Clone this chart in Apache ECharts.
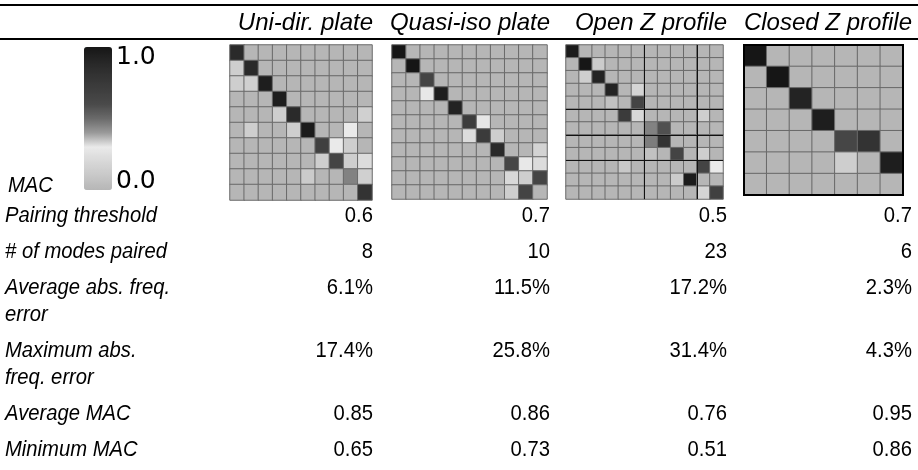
<!DOCTYPE html>
<html><head><meta charset="utf-8">
<script src="https://cdn.jsdelivr.net/npm/echarts@6/dist/echarts.min.js"></script>
<style>html,body{margin:0;padding:0;background:#fff}#c{width:918px;height:470px}</style>
</head><body><div id="c"></div>
<script>
// ---------- data ----------
const columns = ['Uni-dir. plate', 'Quasi-iso plate', 'Open Z profile', 'Closed Z profile'];
const rowLabels = [['Pairing threshold'], ['# of modes paired'], ['Average abs. freq.', 'error'],
                   ['Maximum abs.', 'freq. error'], ['Average MAC'], ['Minimum MAC']];
const pairingThreshold = [0.6, 0.7, 0.5, 0.7];
const modesPaired = [8, 10, 23, 6];
const avgFreqError = [6.1, 11.5, 17.2, 2.3];
const maxFreqError = [17.4, 25.8, 31.4, 4.3];
const avgMAC = [0.85, 0.86, 0.76, 0.95];
const minMAC = [0.65, 0.73, 0.51, 0.86];
const colorbarLabels = ['1.0', '0.0'];
const colorbarTitle = 'MAC';

const macUniDir = [
  [0.87,0,0,0,0,0,0,0,0,0],
  [0.14,0.87,0,0,0,0,0,0,0,0],
  [0.14,0.15,0.95,0,0,0,0,0,0,0],
  [0,0,0,0.95,0,0,0,0,0,0],
  [0,0,0,0.14,0.87,0,0,0,0,0.15],
  [0,0.14,0,0,0.14,0.97,0,0,0.3,0],
  [0,0,0,0,0,0,0.68,0.3,0.14,0],
  [0,0,0,0,0,0,0.14,0.65,0.14,0.22],
  [0,0,0,0,0,0.12,0,0,0.45,0.15],
  [0,0,0,0,0,0,0,0,0,0.8]
];
const macQuasiIso = [
  [1,0,0,0,0,0,0,0,0,0,0],
  [0,1,0,0,0,0,0,0,0,0,0],
  [0,0,0.65,0,0,0,0,0,0,0,0],
  [0,0,0.29,0.95,0,0,0,0,0,0,0],
  [0,0,0,0,0.92,0,0,0,0,0,0],
  [0,0,0,0,0,0.72,0.28,0,0,0,0],
  [0,0,0,0,0,0.22,0.73,0.14,0,0,0],
  [0,0,0,0,0,0,0,0.87,0,0,0.17],
  [0,0,0,0,0,0,0,0,0.63,0.29,0.22],
  [0,0,0,0,0,0,0,0,0.2,0.14,0.65],
  [0,0,0,0,0,0,0,0,0.14,0.65,0]
];
const macOpenZ = [
  [0.97,0,0,0,0,0,0,0,0,0,0,0],
  [0,1,0.12,0,0,0,0,0,0,0,0,0],
  [0,0.14,0.92,0,0,0,0,0,0,0,0,0],
  [0,0,0,0.92,0,0.18,0,0,0,0,0,0],
  [0,0,0,0.06,0,0.65,0,0,0,0,0,0],
  [0,0,0,0,0.73,0.2,0,0,0,0,0.14,0],
  [0,0,0,0,0,0,0.45,0.58,0,0,0,0],
  [0,0,0,0,0,0,0.46,0.8,0,0,0,0],
  [0,0,0,0,0,0,0.06,0,0.65,0,0.14,0],
  [0,0,0,0,0.1,0,0,0,0,0,0.65,0.3],
  [0,0,0,0,0,0,0,0,0.12,0.97,0,0],
  [0,0,0,0,0,0,0,0,0,0,0.18,0.68]
];
const macClosedZ = [
  [1,0,0,0,0,0,0],
  [0,1,0,0,0,0,0],
  [0,0,0.92,0,0,0,0],
  [0,0,0,0.95,0,0,0],
  [0,0,0,0,0.63,0.8,0],
  [0,0,0,0,0.14,0,0.95],
  [0,0,0,0,0,0,0]
];
const openZDividersX = [6, 10];
const openZDividersY = [5, 7, 9];

// ---------- layout ----------
const matrices = [macUniDir, macQuasiIso, macOpenZ, macClosedZ];
const gridBoxes = [
  {left: 230, top: 45, width: 142, height: 155},
  {left: 392, top: 45, width: 155, height: 154},
  {left: 566, top: 45, width: 157, height: 154},
  {left: 744, top: 45, width: 159, height: 150}
];
const colRight = [373, 550, 727, 912];
const rowY = [216, 252, 288, 351, 414, 450];
const lineGap = 27;
const FAMILY = '"Liberation Sans", Arial, sans-serif';
const condense = 0.92;

const macColors = ['#b6b6b6','#c8c8c8','#d8d8d8','#eaeaea','#9a9a9a','#6a6a6a',
                   '#4a4a4a','#3e3e3e','#333333','#262626','#161616'];

const rowValues = [
  pairingThreshold.map(v => v.toFixed(1)),
  modesPaired.map(v => String(v)),
  avgFreqError.map(v => v.toFixed(1) + '%'),
  maxFreqError.map(v => v.toFixed(1) + '%'),
  avgMAC.map(v => v.toFixed(2)),
  minMAC.map(v => v.toFixed(2))
];

const graphics = [];
function txt(text, x, y, align, italic, size, family, sx) {
  graphics.push({type: 'text', z: 10, x: x, y: y, scaleX: sx == null ? condense : sx,
    style: {
      text: text, x: 0, y: 0, textAlign: align, textVerticalAlign: 'middle',
      fontFamily: family || FAMILY, fontSize: size || 22,
      fontStyle: italic ? 'italic' : 'normal', fill: '#000'
    }});
}
// rules
graphics.push({type: 'line', shape: {x1: 0, y1: 5, x2: 918, y2: 5}, style: {stroke: '#000', lineWidth: 2}});
graphics.push({type: 'line', shape: {x1: 0, y1: 39, x2: 918, y2: 39}, style: {stroke: '#000', lineWidth: 2}});
// headers
columns.forEach((c, i) => txt(c, colRight[i], 23, 'right', true, 24, null, 1));
// row labels and values
rowLabels.forEach((lines, r) => {
  lines.forEach((l, k) => txt(l, 5, rowY[r] + k * lineGap, 'left', true));
  rowValues[r].forEach((v, i) => txt(v, colRight[i], rowY[r], 'right', false));
});
// colorbar labels
txt(colorbarLabels[0], 116, 57, 'left', false, 25, '"DejaVu Sans", sans-serif', 1);
txt(colorbarLabels[1], 116, 181, 'left', false, 25, '"DejaVu Sans", sans-serif', 1);
txt(colorbarTitle, 8, 186, 'left', true);
// closed-Z outer frame
const g4 = gridBoxes[3];
graphics.push({type: 'rect', z: 20, shape: {x: g4.left, y: g4.top, width: g4.width, height: g4.height},
  style: {fill: 'none', stroke: '#000', lineWidth: 2}});

const grid = gridBoxes.map(b => ({left: b.left, top: b.top, width: b.width, height: b.height}));
const xAxis = [], yAxis = [], series = [];
matrices.forEach((m, i) => {
  const cats = m[0].map((_, j) => String(j + 1));
  xAxis.push({type: 'category', gridIndex: i, data: cats, show: false});
  yAxis.push({type: 'category', gridIndex: i, data: m.map((_, j) => String(j + 1)), inverse: true, show: false});
  const data = [];
  m.forEach((row, r) => row.forEach((v, c) => data.push([c, r, v])));
  series.push({type: 'heatmap', xAxisIndex: i, yAxisIndex: i, data: data, silent: true,
    itemStyle: {borderColor: '#696969', borderWidth: 1}, emphasis: {disabled: true}});
});
// dividers in Open Z matrix
xAxis.push({type: 'value', gridIndex: 2, min: 0, max: macOpenZ[0].length, show: false});
yAxis.push({type: 'value', gridIndex: 2, min: 0, max: macOpenZ.length, inverse: true, show: false});
series.push({type: 'line', xAxisIndex: 4, yAxisIndex: 4, data: [], silent: true, z: 5,
  markLine: {silent: true, symbol: ['none', 'none'], label: {show: false}, animation: false,
    lineStyle: {color: '#111', width: 1, type: 'solid'},
    data: openZDividersX.map(v => ({xAxis: v})).concat(openZDividersY.map(v => ({yAxis: v})))}});

const chart = echarts.init(document.getElementById('c'), null, {renderer: 'canvas'});
chart.setOption({
  animation: false,
  backgroundColor: '#fff',
  grid: grid, xAxis: xAxis, yAxis: yAxis,
  visualMap: {type: 'continuous', min: 0, max: 1, seriesIndex: [0, 1, 2, 3], calculable: false,
    show: true, orient: 'vertical', left: 84, top: 47, itemWidth: 28, itemHeight: 143, padding: 0,
    inRange: {color: macColors}, hoverLink: false},
  series: series,
  graphic: graphics
});
</script></body></html>
